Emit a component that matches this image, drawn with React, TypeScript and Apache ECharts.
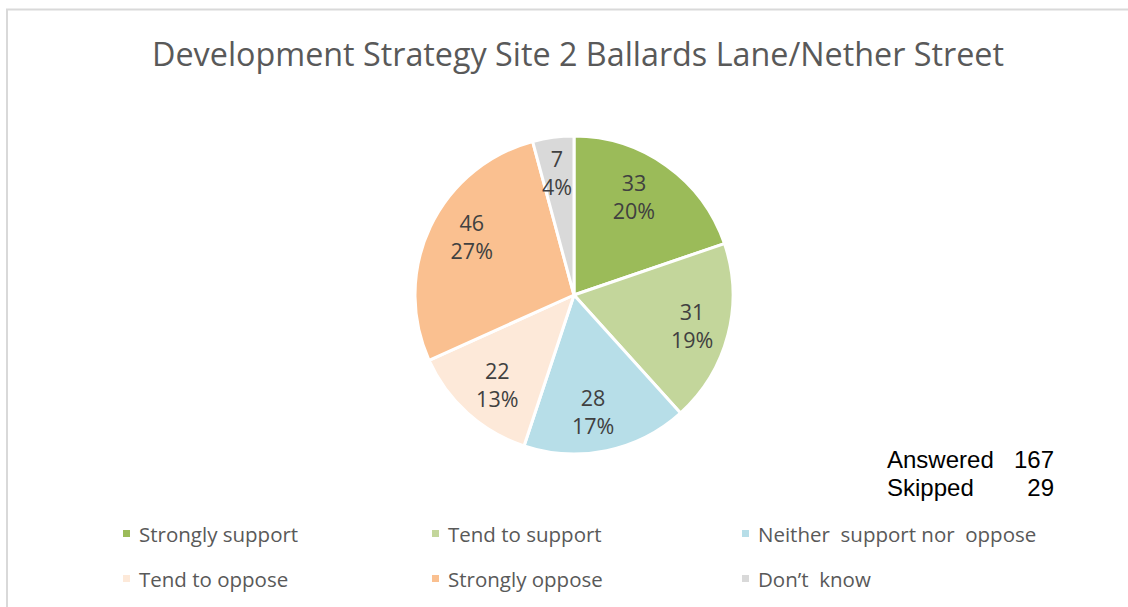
import React, { useEffect, useRef } from "react";
import * as echarts from "echarts";

const categories = [
  "Strongly support",
  "Tend to support",
  "Neither  support nor  oppose",
  "Tend to oppose",
  "Strongly oppose",
  "Don’t  know",
];
const values = [33, 31, 28, 22, 46, 7];
const colors = ["#9BBB59", "#C3D69B", "#B7DEE8", "#FDE9D9", "#FAC090", "#D9D9D9"];
const titleText = "Development Strategy Site 2 Ballards Lane/Nether Street";
const statLabels = ["Answered", "Skipped"];
const statValues = ["167", "29"];

// small nudges so the in-slice labels sit where the original placed them
const labelNudges = [
  [-11, 1],
  [0, 0],
  [-6, -3],
  [5, -1],
  [8, -6],
  [-1, -2],
];

export default function App() {
  const ref = useRef<HTMLDivElement>(null);
  useEffect(() => {
    document.body.style.margin = "0";
    const chart = echarts.init(ref.current!, null, { renderer: "svg" });
    const data = categories.map((name, i) => ({
      name,
      value: values[i],
      itemStyle: { color: colors[i] },
    }));
    const legendPos = [
      [121, 524],
      [430, 524],
      [740, 524],
      [121, 569],
      [430, 569],
      [740, 569],
    ];
    const font = "'Open Sans', 'Noto Sans', sans-serif";
    chart.setOption({
      animation: false,
      backgroundColor: "#ffffff",
      title: {
        text: titleText,
        left: 573,
        textAlign: "center",
        top: 32,
        textStyle: { fontFamily: font, fontSize: 32.3, fontWeight: "normal", color: "#595959" },
      },
      legend: categories.map((name, i) => ({
        data: [name],
        left: legendPos[i][0],
        top: legendPos[i][1] - 1,
        icon: "rect",
        itemWidth: 9,
        itemHeight: 9,
        padding: 0,
        selectedMode: false,
        textStyle: {
          fontFamily: font,
          fontSize: 20.5,
          color: "#595959",
          padding: [0, 0, 0, 3],
        },
      })),
      graphic: [
        {
          type: "rect",
          shape: { x: 7, y: 9.5, width: 1200, height: 700 },
          style: { fill: "none", stroke: "#d9d9d9", lineWidth: 2 },
          silent: true,
        },
        ...statLabels.map((t, i) => ({
          type: "text",
          left: 887,
          top: 447 + i * 28,
          style: { text: t, font: "24px 'Liberation Sans', Arial, sans-serif", fill: "#000000" },
          silent: true,
        })),
        ...statValues.map((t, i) => ({
          type: "text",
          right: 1128 - 1054,
          top: 447 + i * 28,
          style: { text: t, font: "24px 'Liberation Sans', Arial, sans-serif", fill: "#000000" },
          silent: true,
        })),
      ],
      series: [
        {
          type: "pie",
          name: "pie",
          center: [574, 295],
          radius: 159,
          startAngle: 90,
          clockwise: true,
          silent: true,
          data,
          itemStyle: { borderColor: "#ffffff", borderWidth: 3 },
          label: { show: false },
          labelLine: { show: false },
          emphasis: { disabled: true },
        },
        {
          type: "pie",
          name: "labels",
          center: [574, 295],
          radius: 238,
          startAngle: 90,
          clockwise: true,
          silent: true,
          percentPrecision: 0,
          data: data.map((d, i) => ({
            ...d,
            itemStyle: { color: "rgba(0,0,0,0)" },
            label: { offset: labelNudges[i] },
          })),
          itemStyle: { color: "rgba(0,0,0,0)", borderWidth: 0 },
          label: {
            show: true,
            position: "inside",
            formatter: "{c}\n{d}%",
            fontFamily: font,
            fontSize: 21.5,
            lineHeight: 28,
            color: "#404040",
            align: "center",
          },
          labelLine: { show: false },
          emphasis: { disabled: true },
        },
      ],
    });
    return () => chart.dispose();
  }, []);
  return <div ref={ref} style={{ width: 1128, height: 607 }} />;
}
